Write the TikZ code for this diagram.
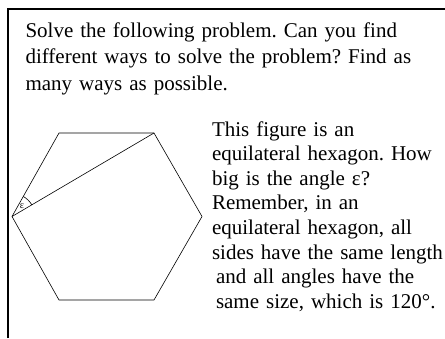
\documentclass[tikz,border=0pt]{standalone}
\usepackage{fontspec}
\setmainfont{Liberation Serif}
\usetikzlibrary{positioning,angles,quotes}
\frenchspacing

\begin{document}
\begin{tikzpicture}[x=1pt,y=1pt,node distance=10pt,
    every node/.style={inner sep=0pt,outer sep=0pt},
    frameline/.style={line width=1.3pt,line join=miter},
    hexline/.style={line width=0.6pt},
    bodytext/.style={align=left,font=\fontsize{21}{24.6}\selectfont}]
  \useasboundingbox (0,0) rectangle (445,338);
  % frame
  \coordinate (fb) at (8,0);
  \coordinate (ftl) at (8,329);
  \coordinate (ftr) at (445,329);
  \draw[frameline] (fb) -- (ftl) -- (ftr);
  \node[bodytext,anchor=north west,text width=410pt,
        font=\fontsize{21}{26.7}\selectfont] (task) at (25.5,315.6)
    {Solve the following problem. Can you find\\
     different ways to solve the problem? Find as\\
     many ways as possible.};
  % hexagon
  \coordinate (L) at (12,121.5);
  \coordinate (TL) at (59,205);
  \coordinate (TR) at (154,205);
  \coordinate (R) at (202,121.5);
  \coordinate (BR) at (154,38);
  \coordinate (BL) at (59,38);
  \draw[hexline] (L) -- (TL) -- (TR) -- (R) -- (BR) -- (BL) -- cycle;
  \draw[hexline] (L) -- (TR);
  \pic[draw,hexline,angle radius=23pt,angle eccentricity=0.62,
       "ε" {font=\fontsize{10}{10}\selectfont}] {angle=TR--L--TL};
  \node[bodytext,right=of R,text width=240pt] (info)
    {This figure is an\\
     equilateral hexagon. How\\
     big is the angle ε?\\
     Remember, in an\\
     equilateral hexagon, all\\
     sides have the same length\\
     \hspace*{4pt}and all angles have the\\
     \hspace*{4pt}same size, which is 120°.};
\end{tikzpicture}
\end{document}
